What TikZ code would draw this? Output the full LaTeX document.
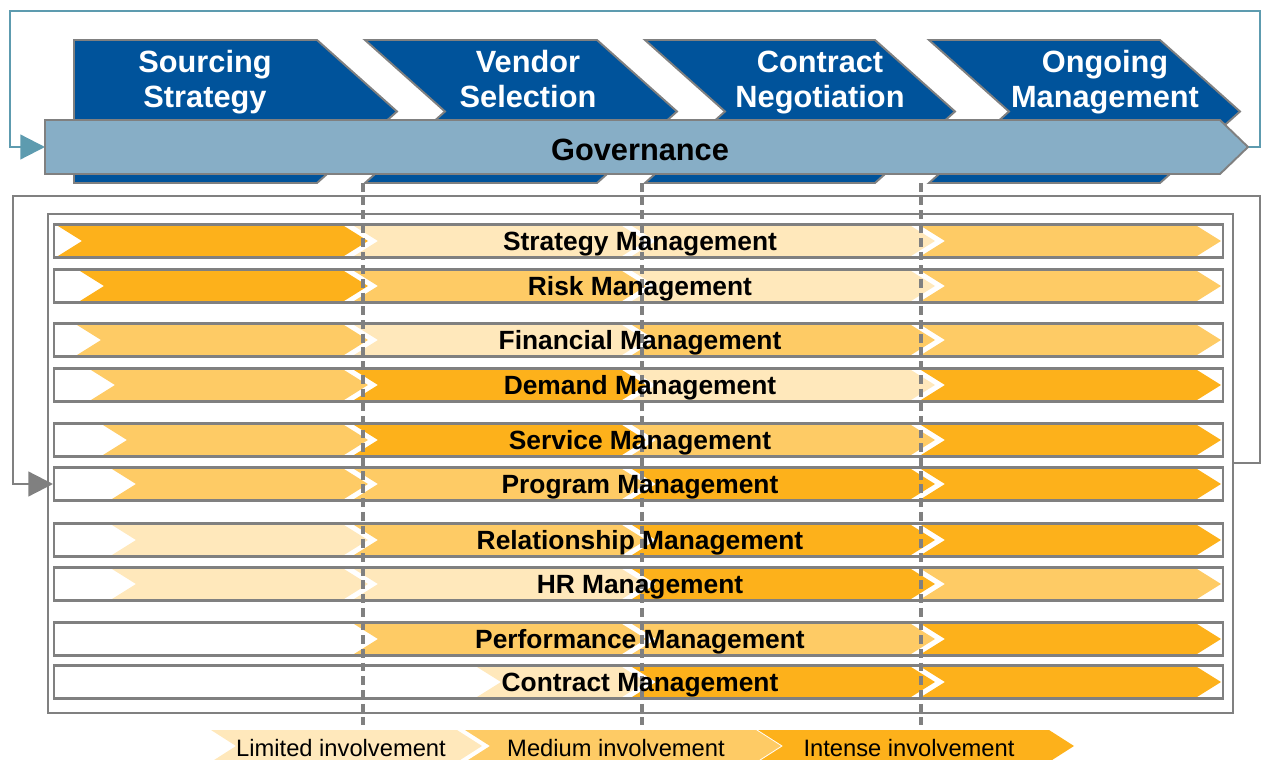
\documentclass[tikz,border=0pt]{standalone}
\usepackage{fontspec}
\setmainfont{Liberation Sans}
\usetikzlibrary{arrows.meta}

\definecolor{phaseblue}{RGB}{0,83,155}
\definecolor{govblue}{RGB}{135,174,198}
\definecolor{loopteal}{RGB}{93,155,175}
\definecolor{linegrey}{RGB}{128,128,128}
\definecolor{lvlI}{RGB}{253,177,27}   % intense
\definecolor{lvlM}{RGB}{254,203,101}  % medium
\definecolor{lvlL}{RGB}{255,232,187}  % limited

% pointed bar: left, right, top, bottom, notch depth, tip depth, style
\newcommand{\pointedbar}[7]{%
    \path[#7] (#1,#3) -- ({#2-#6},#3) -- (#2,{(#3+#4)/2}) -- ({#2-#6},#4)
        -- (#1,#4) -- ({#1+#5},{(#3+#4)/2}) -- cycle;
}

\tikzset{
    phasebar/.style={fill=phaseblue, draw=linegrey, line width=1.1pt},
    phasename/.style={text=white, align=center, text depth=0pt,
        font=\fontsize{17.5}{20}\selectfont\bfseries},
    govbar/.style={fill=govblue, draw=linegrey, line width=1.1pt},
    govname/.style={anchor=base, font=\fontsize{17.5}{21}\selectfont\bfseries},
    loopblue/.style={draw=loopteal, line width=1.3pt, -{Triangle[length=14pt,width=14pt]}},
    loopgrey/.style={draw=linegrey, line width=1.3pt, -{Triangle[length=14pt,width=14pt]}},
    areabox/.style={draw=linegrey, line width=1.1pt},
    rowbox/.style={draw=linegrey, line width=1.6pt},
    colsplit/.style={draw=linegrey, line width=2pt, dash pattern=on 5pt off 2.8pt},
    rowname/.style={anchor=base, font=\fontsize{15}{18}\selectfont\bfseries},
    keyname/.style={anchor=base, font=\fontsize{13.5}{16}\selectfont},
}

% y / first bar start / second bar start / four levels / function
\def\rowlist{241/58/354/lvlI/lvlL/lvlL/lvlM/Strategy,
    286/80/354/lvlI/lvlM/lvlL/lvlM/Risk,
    340/77/354/lvlM/lvlL/lvlM/lvlM/Financial,
    385/91/354/lvlM/lvlI/lvlL/lvlI/Demand,
    440/103/354/lvlM/lvlI/lvlM/lvlI/Service,
    484/112/354/lvlM/lvlM/lvlI/lvlI/Program,
    540/112/354/lvlL/lvlM/lvlI/lvlI/Relationship,
    584/112/354/lvlL/lvlL/lvlI/lvlM/HR,
    639/112/354/none/lvlM/lvlM/lvlI/Performance,
    682/112/477/none/lvlL/lvlI/lvlI/Contract}

\begin{document}
\begin{tikzpicture}[x=0.02cm, y=-0.02cm]
    \useasboundingbox (0,0) rectangle (1261,760);
    \def\d{24}

    % feedback loop round the phases
    \coordinate (gov in) at (45,147);
    \coordinate (gov tip) at (1248,147);
    \draw[loopblue] (gov tip) -- (1260,147) |- (10,11) |- (gov in);

    % phases
    \pointedbar{74}{397}{40}{183}{0}{80}{phasebar}
    \pointedbar{365}{677}{40}{183}{80}{80}{phasebar}
    \pointedbar{645}{955}{40}{183}{80}{80}{phasebar}
    \pointedbar{929}{1240}{40}{183}{80}{80}{phasebar}
    \node[phasename] (ph1) at (205,79) {Sourcing\\Strategy};
    \node[phasename] (ph2) at (528,79) {Vendor\\Selection};
    \node[phasename] (ph3) at (820,79) {Contract\\Negotiation};
    \node[phasename] (ph4) at (1105,79) {Ongoing\\Management};

    % governance
    \pointedbar{45}{1248}{120}{174}{0}{28}{govbar}
    \node[govname] (gov) at (640,161) {Governance};

    % functions area and its loop
    \draw[areabox] (48,214) rectangle (1233,713);
    \coordinate (area out) at (1233,463);
    \coordinate (row in) at (53,484);
    \draw[loopgrey] (area out) -- (1260,463) |- (13,196) |- (row in);

    \foreach \y/\a/\b/\ca/\cb/\cc/\cd/\name in \rowlist {
        \pointedbar{\a}{368}{\y-15}{\y+15}{\d}{\d}{fill=\ca}
        \pointedbar{\b}{646}{\y-15}{\y+15}{\d}{\d}{fill=\cb}
        \pointedbar{632}{935}{\y-15}{\y+15}{\d}{\d}{fill=\cc}
        \pointedbar{921}{1221}{\y-15}{\y+15}{\d}{\d}{fill=\cd}
        \draw[rowbox] (54,\y-16.5) rectangle (1223,\y+16.5);
    }

    \foreach \x in {363,642,921}
        \draw[colsplit] (\x,183) -- (\x,725);

    \foreach \y/\a/\b/\ca/\cb/\cc/\cd/\name [count=\i] in \rowlist
        \node[rowname] (fn\i) at (640,\y+9.5) {\name\ Management};

    % key
    \pointedbar{211}{482}{730}{762}{25}{25}{fill=lvlL}
    \pointedbar{465}{781}{730}{762}{25}{25}{fill=lvlM}
    \pointedbar{758}{1074}{730}{762}{25}{25}{fill=lvlI}
    \node[keyname] (key lim) at (341,756) {Limited involvement};
    \node[keyname] (key med) at (616,756) {Medium involvement};
    \node[keyname] (key int) at (909,756) {Intense involvement};
\end{tikzpicture}
\end{document}
